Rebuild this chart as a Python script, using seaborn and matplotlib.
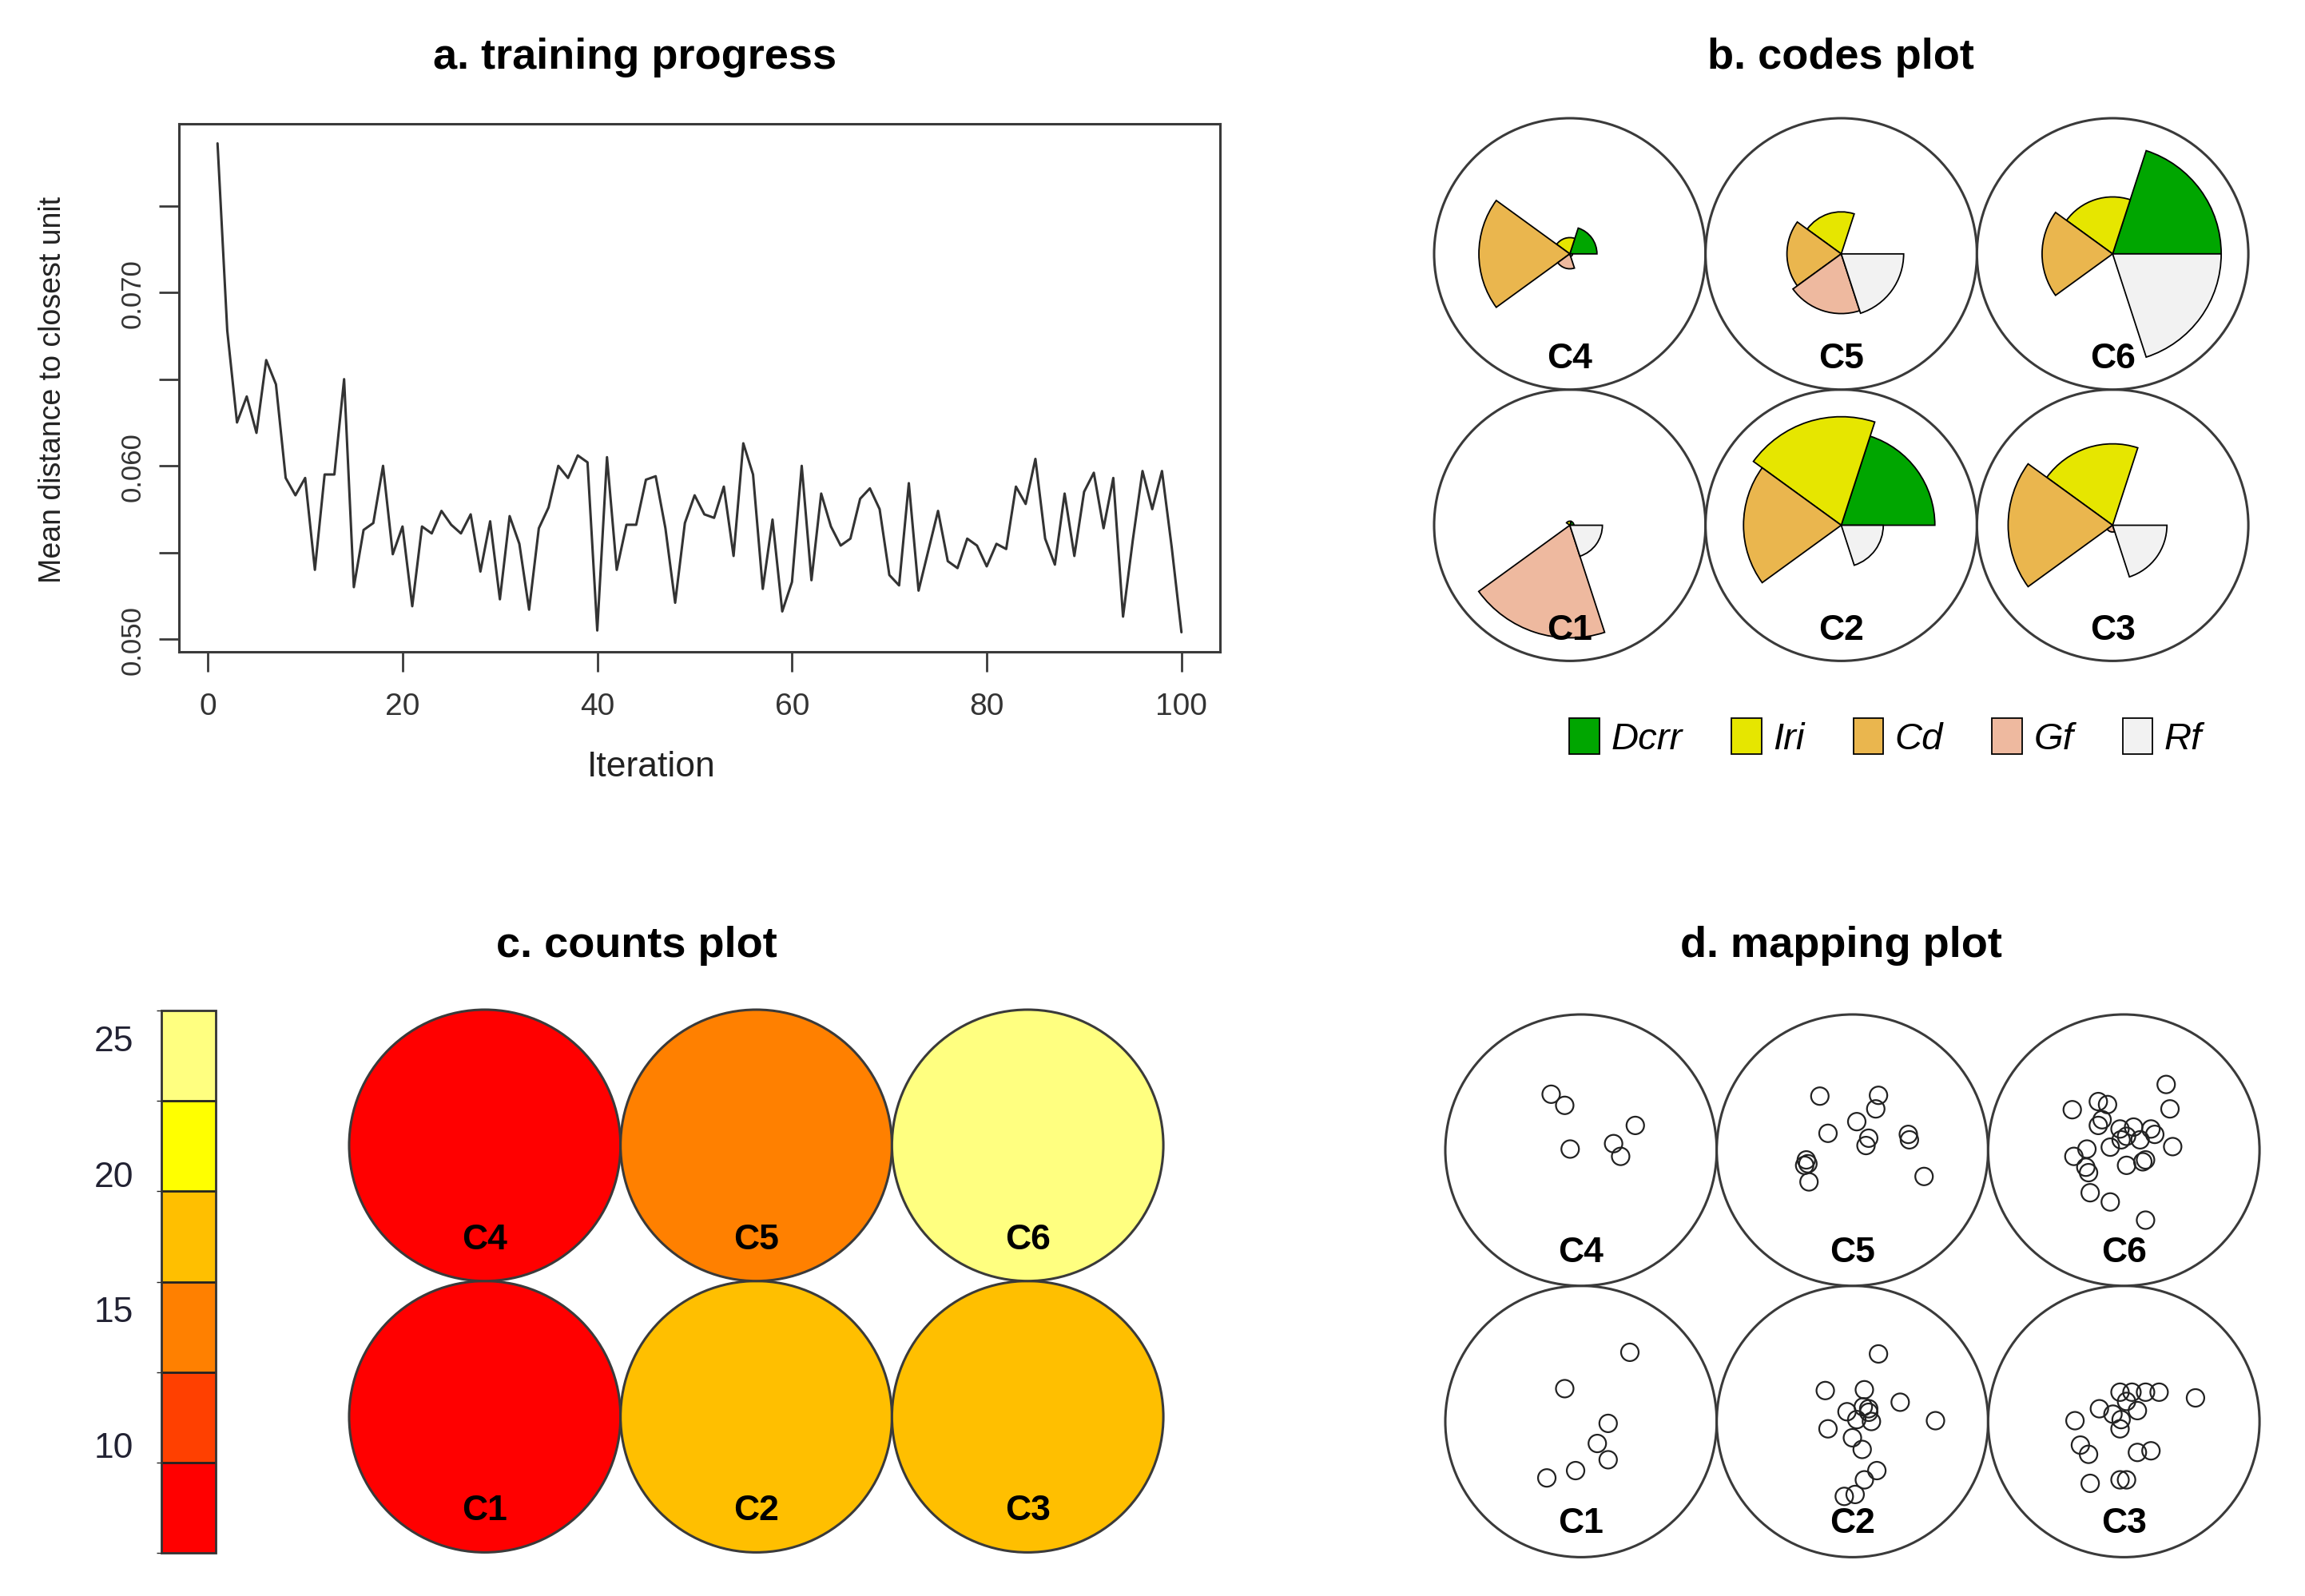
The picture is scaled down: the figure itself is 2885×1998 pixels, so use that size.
import numpy as np
import pandas as pd
import matplotlib
matplotlib.use('Agg')
import matplotlib.pyplot as plt
from matplotlib.patches import Wedge, Circle, Patch
from matplotlib.colors import ListedColormap, BoundaryNorm
from matplotlib.cm import ScalarMappable
import seaborn as sns

sns.set_theme(style='white')
plt.rcParams['font.family'] = ['Liberation Sans', 'DejaVu Sans']
plt.rcParams['text.color'] = 'black'

# --- datos: progreso del entrenamiento ---
iteration = np.arange(1, 101)
mean_dist = [
    0.0786, 0.0678, 0.0625, 0.0640, 0.0619, 0.0661, 0.0647, 0.0593, 0.0583, 0.0593,
    0.0540, 0.0595, 0.0595, 0.0650, 0.0530, 0.0563, 0.0567, 0.0600, 0.0549, 0.0565,
    0.0519, 0.0565, 0.0561, 0.0574, 0.0566, 0.0561, 0.0572, 0.0539, 0.0568, 0.0523,
    0.0571, 0.0555, 0.0517, 0.0564, 0.0576, 0.0600, 0.0593, 0.0606, 0.0602, 0.0505,
    0.0605, 0.0540, 0.0566, 0.0566, 0.0592, 0.0594, 0.0564, 0.0521, 0.0567, 0.0583,
    0.0572, 0.0570, 0.0588, 0.0548, 0.0613, 0.0595, 0.0529, 0.0569, 0.0516, 0.0533,
    0.0600, 0.0534, 0.0584, 0.0565, 0.0554, 0.0558, 0.0581, 0.0587, 0.0575, 0.0537,
    0.0531, 0.0590, 0.0528, 0.0551, 0.0574, 0.0545, 0.0541, 0.0558, 0.0554, 0.0542,
    0.0555, 0.0552, 0.0588, 0.0578, 0.0604, 0.0558, 0.0543, 0.0584, 0.0548, 0.0585,
    0.0596, 0.0564, 0.0593, 0.0513, 0.0557, 0.0597, 0.0575, 0.0597, 0.0553, 0.0504,
]

# --- unidades del mapa (C1..C6) ---
units = ['C1', 'C2', 'C3', 'C4', 'C5', 'C6']
unit_x = [1, 2, 3, 1, 2, 3]
unit_y = [1, 1, 1, 2, 2, 2]

# --- codigos (fraccion del radio), orden C1..C6 ---
variables = ['Dcrr', 'Iri', 'Cd', 'Gf', 'Rf']
var_colors = ['#00A600', '#E6E600', '#EAB64E', '#EEB99F', '#F2F2F2']
code_dcrr = [0.03, 0.69, 0.00, 0.20, 0.00, 0.80]
code_iri = [0.03, 0.80, 0.60, 0.12, 0.31, 0.42]
code_cd = [0.00, 0.72, 0.77, 0.67, 0.40, 0.52]
code_gf = [0.83, 0.00, 0.05, 0.11, 0.44, 0.00]
code_rf = [0.24, 0.31, 0.40, 0.02, 0.46, 0.80]

# --- conteos ---
counts = [7, 18, 19, 6, 14, 26]
heat_colors = ['#FF0000', '#FF4000', '#FF8000', '#FFBF00', '#FFFF00', '#FFFF80']

# --- puntos del mapping plot (desplazamiento respecto al centro de la unidad) ---
pts_C1 = [(0.18, 0.255), (-0.06, 0.121), (0.10, -0.007), (0.06, -0.081), (0.10, -0.141),
          (-0.02, -0.181), (-0.126, -0.208)]
pts_C2 = [(0.096, 0.249), (-0.10, 0.114), (0.044, 0.117), (0.176, 0.071), (-0.02, 0.036),
          (0.06, 0.047), (0.07, 0.0), (0.016, 0.007), (0.306, 0.003), (-0.09, -0.027),
          (0.0, -0.06), (0.036, -0.103), (0.09, -0.181), (0.044, -0.215), (-0.03, -0.276),
          (0.01, -0.269), (0.06, 0.034), (0.04, 0.054)]
pts_C3 = [(0.264, 0.087), (-0.014, 0.108), (0.03, 0.108), (0.08, 0.108), (0.13, 0.108),
          (0.01, 0.074), (-0.09, 0.047), (-0.04, 0.027), (0.05, 0.04), (-0.01, 0.007),
          (-0.014, -0.027), (-0.18, 0.003), (-0.16, -0.087), (-0.13, -0.121), (0.05, -0.114),
          (0.10, -0.108), (-0.124, -0.228), (-0.014, -0.215), (0.01, -0.215)]
pts_C4 = [(-0.11, 0.206), (-0.06, 0.165), (-0.04, 0.004), (0.12, 0.024), (0.146, -0.023),
          (0.20, 0.091)]
pts_C5 = [(-0.12, 0.199), (0.096, 0.202), (0.086, 0.152), (0.016, 0.105), (-0.09, 0.062),
          (0.06, 0.044), (0.05, 0.017), (0.206, 0.058), (0.21, 0.038), (-0.17, -0.036),
          (-0.176, -0.056), (-0.164, -0.05), (-0.16, -0.117), (0.264, -0.097)]
pts_C6 = [(0.156, 0.242), (0.17, 0.152), (-0.19, 0.149), (-0.094, 0.179), (-0.06, 0.168),
          (-0.08, 0.112), (-0.094, 0.091), (-0.014, 0.078), (0.036, 0.085), (0.10, 0.078),
          (0.114, 0.058), (0.01, 0.051), (-0.01, 0.038), (0.06, 0.038), (-0.05, 0.011),
          (-0.136, 0.004), (-0.184, -0.023), (0.18, 0.013), (0.08, -0.036), (0.07, -0.043),
          (0.01, -0.056), (-0.14, -0.063), (-0.13, -0.083), (-0.124, -0.157), (-0.05, -0.191),
          (0.08, -0.258)]
mapping_pts = [pts_C1, pts_C2, pts_C3, pts_C4, pts_C5, pts_C6]

W, H = 2885, 1999
fig = plt.figure(figsize=(W / 100, H / 100), dpi=100)


def px_axes(left, top, width, height):
    return fig.add_axes([left / W, 1 - (top + height) / H, width / W, height / H])


def grid_axes(left, top):
    # 339.7 px por unidad, limites 0.45..3.55 x 0.45..2.55
    ax = px_axes(left, top, 3.1 * 339.7, 2.1 * 339.7)
    ax.set_xlim(0.45, 3.55)
    ax.set_ylim(0.45, 2.55)
    ax.set_aspect('equal')
    ax.axis('off')
    return ax


edge = '#3a3a3a'

# --- a. training progress ---
ax_a = px_axes(224, 156, 1303, 661)
sns.lineplot(x=iteration, y=mean_dist, color='#333333', linewidth=2.2, ax=ax_a)
ax_a.set_xlim(-2.96, 103.96)
ax_a.set_ylim(0.04927, 0.07973)
ax_a.set_xticks([0, 20, 40, 60, 80, 100])
ax_a.set_yticks([0.050, 0.055, 0.060, 0.065, 0.070, 0.075])
ax_a.set_yticklabels(['0.050', '', '0.060', '', '0.070', ''])
ax_a.tick_params(axis='both', direction='out', length=18, width=2, color=edge,
                 labelcolor='#333333', left=True, bottom=True)
ax_a.tick_params(axis='x', labelsize=28, pad=18)
ax_a.tick_params(axis='y', labelsize=25, labelrotation=90, pad=12)
for lab in ax_a.get_yticklabels():
    lab.set_va('center')
for sp in ax_a.spines.values():
    sp.set_visible(True)
    sp.set_linewidth(2.2)
    sp.set_color(edge)
ax_a.set_xlabel('')
ax_a.set_ylabel('')
fig.text(815 / W, 1 - 960 / H, 'Iteration', fontsize=32, ha='center', va='center', color='#222222')
fig.text(66 / W, 1 - 488 / H, 'Mean distance to closest unit', fontsize=27, rotation=90,
         ha='center', va='center', color='#222222')
fig.text(795 / W, 1 - 72 / H, 'a. training progress', fontsize=39, fontweight='bold',
         ha='center', va='center')

# --- b. codes plot ---
ax_b = grid_axes(1778, 132)
codes = [code_dcrr, code_iri, code_cd, code_gf, code_rf]
for i, u in enumerate(units):
    cx, cy = unit_x[i], unit_y[i]
    ax_b.add_patch(Circle((cx, cy), 0.5, fc='white', ec=edge, lw=2.2, zorder=1))
    for k in range(len(variables)):
        r = codes[k][i] * 0.5
        if r <= 0:
            continue
        ax_b.add_patch(Wedge((cx, cy), r, 72 * k, 72 * (k + 1), fc=var_colors[k],
                             ec='black', lw=1.3, zorder=2))
    ax_b.text(cx, cy - 0.385, u, fontsize=32, fontweight='bold', ha='center', va='center', zorder=3)
fig.text(2304 / W, 1 - 72 / H, 'b. codes plot', fontsize=39, fontweight='bold',
         ha='center', va='center')
handles = [Patch(fc=c, ec='black', lw=1.3) for c in var_colors]
leg = fig.legend(handles, variables, loc='center', bbox_to_anchor=(2360 / W, 1 - 924 / H),
                 ncol=5, frameon=False, prop={'style': 'italic', 'size': 34},
                 handlelength=0.8, handleheight=1.1, handletextpad=0.3, columnspacing=1.3)

# --- c. counts plot ---
ax_c = grid_axes(420, 1248)
cmap = ListedColormap(heat_colors)
bounds = np.linspace(min(counts), max(counts), len(heat_colors) + 1)
norm = BoundaryNorm(bounds, cmap.N, clip=True)
for i, u in enumerate(units):
    cx, cy = unit_x[i], unit_y[i]
    ax_c.add_patch(Circle((cx, cy), 0.5, fc=cmap(norm(counts[i])), ec=edge, lw=2.2))
    ax_c.text(cx, cy - 0.345, u, fontsize=32, fontweight='bold', ha='center', va='center')
fig.text(797 / W, 1 - 1184 / H, 'c. counts plot', fontsize=39, fontweight='bold',
         ha='center', va='center')
cax = px_axes(202, 1266, 68, 679)
cb = fig.colorbar(ScalarMappable(norm=norm, cmap=cmap), cax=cax, drawedges=True,
                  ticks=[10, 15, 20, 25])
cb.outline.set_linewidth(2)
cb.outline.set_edgecolor('#333333')
cb.dividers.set_linewidth(2)
cb.dividers.set_color('#222222')
cax.yaxis.set_ticks_position('left')
cax.tick_params(length=0, labelsize=32, pad=25, labelcolor='#222233')

# --- d. mapping plot ---
ax_d = grid_axes(1792, 1254)
rows = []
for i, u in enumerate(units):
    for dx, dy in mapping_pts[i]:
        rows.append({'unit': u, 'x': unit_x[i] + dx, 'y': unit_y[i] + dy})
map_df = pd.DataFrame(rows)
for i, u in enumerate(units):
    cx, cy = unit_x[i], unit_y[i]
    ax_d.add_patch(Circle((cx, cy), 0.5, fc='white', ec=edge, lw=2.2, zorder=1))
    ax_d.text(cx, cy - 0.375, u, fontsize=32, fontweight='bold', ha='center', va='center', zorder=3)
sns.scatterplot(data=map_df, x='x', y='y', s=250, color='#222222', ax=ax_d, zorder=2, legend=False)
coll = ax_d.collections[-1]
coll.set_facecolor('none')
coll.set_edgecolor('#222222')
coll.set_linewidth(1.6)
ax_d.set_xlim(0.45, 3.55)
ax_d.set_ylim(0.45, 2.55)
ax_d.axis('off')
fig.text(2304 / W, 1 - 1184 / H, 'd. mapping plot', fontsize=39, fontweight='bold',
         ha='center', va='center')

fig.savefig('out.png', dpi=100)
